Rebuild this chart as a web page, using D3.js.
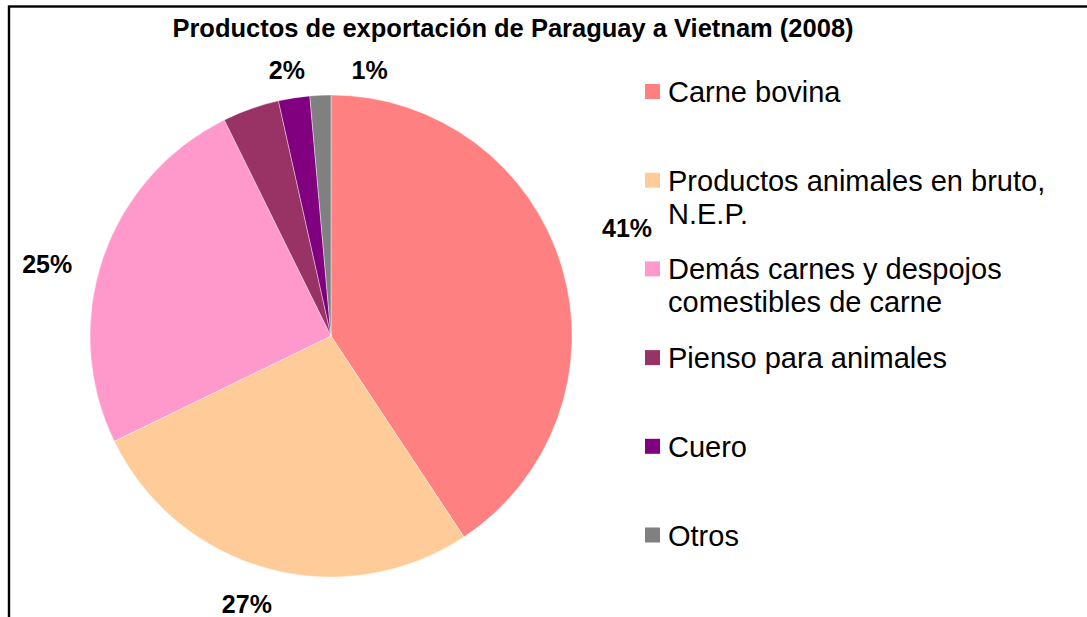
<!DOCTYPE html>
<html>
<head>
<meta charset="utf-8">
<script src="https://cdn.jsdelivr.net/npm/d3@7"></script>
<style>
  body { margin: 0; background: #fff; }
  svg { display: block; font-family: "Liberation Sans", Arial, sans-serif; }
</style>
</head>
<body>
<div id="chart"></div>
<script>
// data (share of exports, %)
let categories = ['Carne bovina', 'Productos animales en bruto, N.E.P.', 'Demás carnes y despojos comestibles de carne',
    'Pienso para animales', 'Cuero', 'Otros'];
let shares = [40.7, 27.1, 24.9, 3.8, 2.1, 1.4];
let sliceColors = ['#FF8080', '#FFCC99', '#FF99CC', '#993366', '#800080', '#808080'];
// legend text as wrapped in the original
let legendLines = [['Carne bovina'], ['Productos animales en bruto,', 'N.E.P.'], ['Demás carnes y despojos', 'comestibles de carne'],
    ['Pienso para animales'], ['Cuero'], ['Otros']];
let hiddenLabels = ['Pienso para animales'];
let chartTitle = 'Productos de exportación de Paraguay a Vietnam (2008)';

let width = 1087,
    height = 617,
    pieCenter = {x: 331, y: 336},
    radius = 241;

// small hand nudges so labels sit like the Excel layout
let labelNudge = {
    'Carne bovina': [27, -27],
    'Productos animales en bruto, N.E.P.': [-10, -3],
    'Demás carnes y despojos comestibles de carne': [-18, 19],
    'Cuero': [-1, 12],
    'Otros': [51, 15]
};

let svg = d3.select('#chart').append('svg')
    .attr('width', width)
    .attr('height', height);

svg.append('rect')
    .attr('x', 9)
    .attr('y', 6.5)
    .attr('width', 2000)
    .attr('height', 2000)
    .attr('fill', 'none')
    .attr('stroke', '#000')
    .attr('stroke-width', 2.4);

svg.append('text')
    .attr('x', 513)
    .attr('y', 37)
    .attr('text-anchor', 'middle')
    .style('font-size', '25.5px')
    .style('font-weight', 'bold')
    .text(chartTitle);

let rows = categories.map((c, i) => ({name: c, value: shares[i], color: sliceColors[i], lines: legendLines[i]}));
let total = d3.sum(shares);

let pie = d3.pie()
    .value(d => d.value)
    .sort(null);

let arc = d3.arc()
    .innerRadius(0)
    .outerRadius(radius);

let labelArc = d3.arc()
    .innerRadius(radius + 40)
    .outerRadius(radius + 40);

let pie_g = svg.append('g')
    .attr('transform', `translate(${pieCenter.x}, ${pieCenter.y})`);

let arcs = pie(rows);

pie_g.selectAll('path')
    .data(arcs)
    .enter().append('path')
    .attr('d', arc)
    .attr('fill', d => d.data.color)
    .attr('stroke', '#fff')
    .attr('stroke-width', 0.4);

let pct = d3.format('.0%');

pie_g.selectAll('.pct')
    .data(arcs.filter(d => hiddenLabels.indexOf(d.data.name) === -1))
    .enter().append('text')
    .attr('class', 'pct')
    .attr('x', d => labelArc.centroid(d)[0] + (labelNudge[d.data.name] || [0, 0])[0])
    .attr('y', d => labelArc.centroid(d)[1] + (labelNudge[d.data.name] || [0, 0])[1])
    .attr('dy', '0.35em')
    .attr('text-anchor', 'middle')
    .style('font-size', '25px')
    .style('font-weight', 'bold')
    .text(d => pct(d.data.value / total));

let legendY = d3.scalePoint()
    .domain(categories)
    .range([91.5, 535]);

let legend_g = svg.append('g')
    .attr('class', 'legend');

let item = legend_g.selectAll('.item')
    .data(rows)
    .enter().append('g')
    .attr('class', 'item')
    .attr('transform', d => `translate(645, ${legendY(d.name)})`);

item.append('rect')
    .attr('x', 0)
    .attr('y', -7.5)
    .attr('width', 15)
    .attr('height', 15)
    .attr('fill', d => d.color);

item.append('text')
    .attr('x', 23)
    .attr('y', 10.5)
    .style('font-size', '29px')
    .selectAll('tspan')
    .data(d => d.lines)
    .enter().append('tspan')
    .attr('x', 23)
    .attr('dy', (d, i) => i === 0 ? 0 : 33)
    .text(d => d);
</script>
</body>
</html>
